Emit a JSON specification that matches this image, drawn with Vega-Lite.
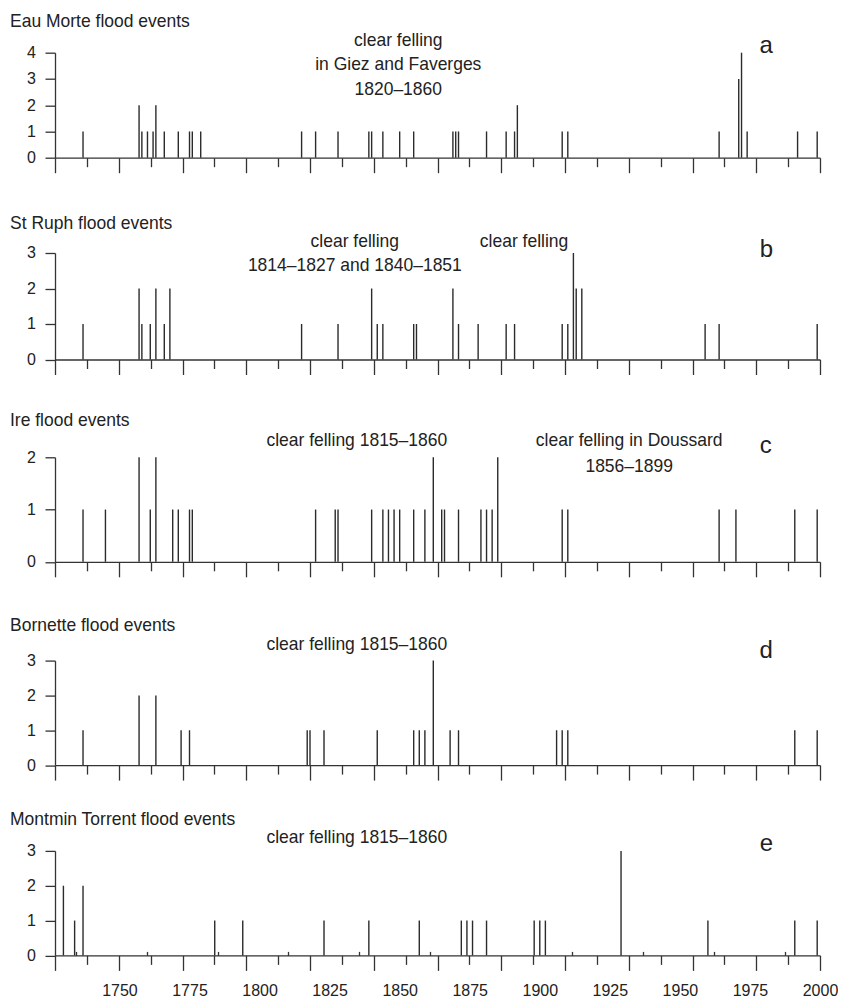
{
  "$schema": "https://vega.github.io/schema/vega-lite/v6.json",
  "padding": {"left": 10, "top": 11.7, "right": 0, "bottom": 0},
  "spacing": 28.3,
  "config": {
    "font": "Liberation Sans",
    "view": {"stroke": null},
    "axis": {"grid": false, "domainColor": "#333", "tickColor": "#333", "labelColor": "#222", "domainWidth": 1.3, "tickWidth": 1.3, "titleColor": "#222", "tickCount": 100, "labelOverlap": false},
    "axisY": {"tickSize": 10, "labelPadding": 9.5, "labelFontSize": 16, "format": "d"},
    "title": {"anchor": "start", "frame": "group", "dx": -45, "baseline": "alphabetic", "fontSize": 17.5, "fontWeight": "normal", "color": "#222"},
    "text": {"color": "#222", "fontSize": 17.5, "align": "center", "baseline": "alphabetic"}
  },
  "datasets": {
    "floods": [
      {"river": "Eau Morte", "year": 1737, "count": 1},
      {"river": "Eau Morte", "year": 1757, "count": 2},
      {"river": "Eau Morte", "year": 1758, "count": 1},
      {"river": "Eau Morte", "year": 1760, "count": 1},
      {"river": "Eau Morte", "year": 1762, "count": 1},
      {"river": "Eau Morte", "year": 1763, "count": 2},
      {"river": "Eau Morte", "year": 1766, "count": 1},
      {"river": "Eau Morte", "year": 1771, "count": 1},
      {"river": "Eau Morte", "year": 1775, "count": 1},
      {"river": "Eau Morte", "year": 1776, "count": 1},
      {"river": "Eau Morte", "year": 1779, "count": 1},
      {"river": "Eau Morte", "year": 1815, "count": 1},
      {"river": "Eau Morte", "year": 1820, "count": 1},
      {"river": "Eau Morte", "year": 1828, "count": 1},
      {"river": "Eau Morte", "year": 1839, "count": 1},
      {"river": "Eau Morte", "year": 1840, "count": 1},
      {"river": "Eau Morte", "year": 1844, "count": 1},
      {"river": "Eau Morte", "year": 1850, "count": 1},
      {"river": "Eau Morte", "year": 1855, "count": 1},
      {"river": "Eau Morte", "year": 1869, "count": 1},
      {"river": "Eau Morte", "year": 1870, "count": 1},
      {"river": "Eau Morte", "year": 1871, "count": 1},
      {"river": "Eau Morte", "year": 1881, "count": 1},
      {"river": "Eau Morte", "year": 1888, "count": 1},
      {"river": "Eau Morte", "year": 1891, "count": 1},
      {"river": "Eau Morte", "year": 1892, "count": 2},
      {"river": "Eau Morte", "year": 1908, "count": 1},
      {"river": "Eau Morte", "year": 1910, "count": 1},
      {"river": "Eau Morte", "year": 1964, "count": 1},
      {"river": "Eau Morte", "year": 1971, "count": 3},
      {"river": "Eau Morte", "year": 1972, "count": 4},
      {"river": "Eau Morte", "year": 1974, "count": 1},
      {"river": "Eau Morte", "year": 1992, "count": 1},
      {"river": "Eau Morte", "year": 1999, "count": 1},
      {"river": "St Ruph", "year": 1737, "count": 1},
      {"river": "St Ruph", "year": 1757, "count": 2},
      {"river": "St Ruph", "year": 1758, "count": 1},
      {"river": "St Ruph", "year": 1761, "count": 1},
      {"river": "St Ruph", "year": 1763, "count": 2},
      {"river": "St Ruph", "year": 1766, "count": 1},
      {"river": "St Ruph", "year": 1768, "count": 2},
      {"river": "St Ruph", "year": 1815, "count": 1},
      {"river": "St Ruph", "year": 1828, "count": 1},
      {"river": "St Ruph", "year": 1840, "count": 2},
      {"river": "St Ruph", "year": 1842, "count": 1},
      {"river": "St Ruph", "year": 1844, "count": 1},
      {"river": "St Ruph", "year": 1855, "count": 1},
      {"river": "St Ruph", "year": 1856, "count": 1},
      {"river": "St Ruph", "year": 1869, "count": 2},
      {"river": "St Ruph", "year": 1871, "count": 1},
      {"river": "St Ruph", "year": 1878, "count": 1},
      {"river": "St Ruph", "year": 1888, "count": 1},
      {"river": "St Ruph", "year": 1891, "count": 1},
      {"river": "St Ruph", "year": 1908, "count": 1},
      {"river": "St Ruph", "year": 1910, "count": 1},
      {"river": "St Ruph", "year": 1912, "count": 3},
      {"river": "St Ruph", "year": 1913, "count": 2},
      {"river": "St Ruph", "year": 1915, "count": 2},
      {"river": "St Ruph", "year": 1959, "count": 1},
      {"river": "St Ruph", "year": 1964, "count": 1},
      {"river": "St Ruph", "year": 1999, "count": 1},
      {"river": "Ire", "year": 1737, "count": 1},
      {"river": "Ire", "year": 1745, "count": 1},
      {"river": "Ire", "year": 1757, "count": 2},
      {"river": "Ire", "year": 1761, "count": 1},
      {"river": "Ire", "year": 1763, "count": 2},
      {"river": "Ire", "year": 1769, "count": 1},
      {"river": "Ire", "year": 1771, "count": 1},
      {"river": "Ire", "year": 1775, "count": 1},
      {"river": "Ire", "year": 1776, "count": 1},
      {"river": "Ire", "year": 1820, "count": 1},
      {"river": "Ire", "year": 1827, "count": 1},
      {"river": "Ire", "year": 1828, "count": 1},
      {"river": "Ire", "year": 1840, "count": 1},
      {"river": "Ire", "year": 1844, "count": 1},
      {"river": "Ire", "year": 1846, "count": 1},
      {"river": "Ire", "year": 1848, "count": 1},
      {"river": "Ire", "year": 1850, "count": 1},
      {"river": "Ire", "year": 1855, "count": 1},
      {"river": "Ire", "year": 1859, "count": 1},
      {"river": "Ire", "year": 1862, "count": 2},
      {"river": "Ire", "year": 1865, "count": 1},
      {"river": "Ire", "year": 1866, "count": 1},
      {"river": "Ire", "year": 1871, "count": 1},
      {"river": "Ire", "year": 1879, "count": 1},
      {"river": "Ire", "year": 1881, "count": 1},
      {"river": "Ire", "year": 1883, "count": 1},
      {"river": "Ire", "year": 1885, "count": 2},
      {"river": "Ire", "year": 1908, "count": 1},
      {"river": "Ire", "year": 1910, "count": 1},
      {"river": "Ire", "year": 1964, "count": 1},
      {"river": "Ire", "year": 1970, "count": 1},
      {"river": "Ire", "year": 1991, "count": 1},
      {"river": "Ire", "year": 1999, "count": 1},
      {"river": "Bornette", "year": 1737, "count": 1},
      {"river": "Bornette", "year": 1757, "count": 2},
      {"river": "Bornette", "year": 1763, "count": 2},
      {"river": "Bornette", "year": 1772, "count": 1},
      {"river": "Bornette", "year": 1775, "count": 1},
      {"river": "Bornette", "year": 1817, "count": 1},
      {"river": "Bornette", "year": 1818, "count": 1},
      {"river": "Bornette", "year": 1823, "count": 1},
      {"river": "Bornette", "year": 1842, "count": 1},
      {"river": "Bornette", "year": 1855, "count": 1},
      {"river": "Bornette", "year": 1857, "count": 1},
      {"river": "Bornette", "year": 1859, "count": 1},
      {"river": "Bornette", "year": 1862, "count": 3},
      {"river": "Bornette", "year": 1868, "count": 1},
      {"river": "Bornette", "year": 1871, "count": 1},
      {"river": "Bornette", "year": 1906, "count": 1},
      {"river": "Bornette", "year": 1908, "count": 1},
      {"river": "Bornette", "year": 1910, "count": 1},
      {"river": "Bornette", "year": 1991, "count": 1},
      {"river": "Bornette", "year": 1999, "count": 1},
      {"river": "Montmin Torrent", "year": 1730, "count": 2},
      {"river": "Montmin Torrent", "year": 1734, "count": 1},
      {"river": "Montmin Torrent", "year": 1737, "count": 2},
      {"river": "Montmin Torrent", "year": 1784, "count": 1},
      {"river": "Montmin Torrent", "year": 1794, "count": 1},
      {"river": "Montmin Torrent", "year": 1823, "count": 1},
      {"river": "Montmin Torrent", "year": 1839, "count": 1},
      {"river": "Montmin Torrent", "year": 1857, "count": 1},
      {"river": "Montmin Torrent", "year": 1872, "count": 1},
      {"river": "Montmin Torrent", "year": 1874, "count": 1},
      {"river": "Montmin Torrent", "year": 1876, "count": 1},
      {"river": "Montmin Torrent", "year": 1881, "count": 1},
      {"river": "Montmin Torrent", "year": 1898, "count": 1},
      {"river": "Montmin Torrent", "year": 1900, "count": 1},
      {"river": "Montmin Torrent", "year": 1902, "count": 1},
      {"river": "Montmin Torrent", "year": 1929, "count": 3},
      {"river": "Montmin Torrent", "year": 1960, "count": 1},
      {"river": "Montmin Torrent", "year": 1991, "count": 1},
      {"river": "Montmin Torrent", "year": 1999, "count": 1}
    ]
  },
  "vconcat": [
    {
      "width": 765, "height": 105,
      "title": {"text": "Eau Morte flood events", "offset": 1.5},
      "layer": [
        {
          "data": {"name": "floods"},
          "transform": [{"filter": "datum.river == 'Eau Morte'"}],
          "mark": {"type": "rule", "strokeWidth": 1.4, "color": "#2b2b2b"},
          "encoding": {
            "x": {"field": "year", "type": "quantitative", "scale": {"domain": [1727, 2000], "nice": false, "zero": false},
              "axis": {"title": "x", "titleOpacity": 0, "titleFontSize": 1, "titlePadding": 11.3, "labels": false, "values": [1727, 1738.375, 1749.75, 1761.125, 1772.5, 1783.875, 1795.25, 1806.625, 1818, 1829.375, 1840.75, 1852.125, 1863.5, 1874.875, 1886.25, 1897.625, 1909, 1920.375, 1931.75, 1943.125, 1954.5, 1965.875, 1977.25, 1988.625, 2000],
                "tickSize": {"condition": {"test": "round((datum.value-1727)/11.375) % 2 == 1", "value": 9}, "value": 15}}},
            "y": {"field": "count", "type": "quantitative", "scale": {"domain": [0, 4], "nice": false}, "axis": {"title": null, "values": [0, 1, 2, 3, 4]}},
            "y2": {"datum": 0}
          }
        },
        {
          "data": {"values": [{}]},
          "mark": {"type": "text", "text": ["clear felling", "in Giez and Faverges", "1820–1860"], "lineHeight": 24.5},
          "encoding": {"x": {"datum": 1849.5}, "y": {"datum": 4.27}}
        },
        {
          "data": {"values": [{}]},
          "mark": {"type": "text", "text": "a", "fontSize": 24},
          "encoding": {"x": {"datum": 1980.8}, "y": {"datum": 3.98}}
        }
      ]
    },
    {
      "width": 765, "height": 106.5,
      "title": {"text": "St Ruph flood events", "offset": 0.9},
      "layer": [
        {
          "data": {"name": "floods"},
          "transform": [{"filter": "datum.river == 'St Ruph'"}],
          "mark": {"type": "rule", "strokeWidth": 1.4, "color": "#2b2b2b"},
          "encoding": {
            "x": {"field": "year", "type": "quantitative", "scale": {"domain": [1727, 2000], "nice": false, "zero": false},
              "axis": {"title": "x", "titleOpacity": 0, "titleFontSize": 1, "titlePadding": 6.4, "labels": false, "values": [1727, 1738.375, 1749.75, 1761.125, 1772.5, 1783.875, 1795.25, 1806.625, 1818, 1829.375, 1840.75, 1852.125, 1863.5, 1874.875, 1886.25, 1897.625, 1909, 1920.375, 1931.75, 1943.125, 1954.5, 1965.875, 1977.25, 1988.625, 2000],
                "tickSize": {"condition": {"test": "round((datum.value-1727)/11.375) % 2 == 1", "value": 9}, "value": 15}}},
            "y": {"field": "count", "type": "quantitative", "scale": {"domain": [0, 3], "nice": false}, "axis": {"title": null, "values": [0, 1, 2, 3]}},
            "y2": {"datum": 0}
          }
        },
        {
          "data": {"values": [{}]},
          "mark": {"type": "text", "text": ["clear felling", "1814–1827 and 1840–1851"], "lineHeight": 24},
          "encoding": {"x": {"datum": 1834}, "y": {"datum": 3.17}}
        },
        {
          "data": {"values": [{}]},
          "mark": {"type": "text", "text": "clear felling"},
          "encoding": {"x": {"datum": 1894.4}, "y": {"datum": 3.17}}
        },
        {
          "data": {"values": [{}]},
          "mark": {"type": "text", "text": "b", "fontSize": 24},
          "encoding": {"x": {"datum": 1980.9}, "y": {"datum": 2.89}}
        }
      ]
    },
    {
      "width": 765, "height": 104.5,
      "title": {"text": "Ire flood events", "offset": 2.2},
      "layer": [
        {
          "data": {"name": "floods"},
          "transform": [{"filter": "datum.river == 'Ire'"}],
          "mark": {"type": "rule", "strokeWidth": 1.4, "color": "#2b2b2b"},
          "encoding": {
            "x": {"field": "year", "type": "quantitative", "scale": {"domain": [1727, 2000], "nice": false, "zero": false},
              "axis": {"title": "x", "titleOpacity": 0, "titleFontSize": 1, "titlePadding": 9.7, "labels": false, "values": [1727, 1738.375, 1749.75, 1761.125, 1772.5, 1783.875, 1795.25, 1806.625, 1818, 1829.375, 1840.75, 1852.125, 1863.5, 1874.875, 1886.25, 1897.625, 1909, 1920.375, 1931.75, 1943.125, 1954.5, 1965.875, 1977.25, 1988.625, 2000],
                "tickSize": {"condition": {"test": "round((datum.value-1727)/11.375) % 2 == 1", "value": 9}, "value": 15}}},
            "y": {"field": "count", "type": "quantitative", "scale": {"domain": [0, 2], "nice": false}, "axis": {"title": null, "values": [0, 1, 2]}},
            "y2": {"datum": 0}
          }
        },
        {
          "data": {"values": [{}]},
          "mark": {"type": "text", "text": "clear felling 1815–1860"},
          "encoding": {"x": {"datum": 1834.7}, "y": {"datum": 2.22}}
        },
        {
          "data": {"values": [{}]},
          "mark": {"type": "text", "text": ["clear felling in Doussard", "1856–1899"], "lineHeight": 26},
          "encoding": {"x": {"datum": 1931.9}, "y": {"datum": 2.22}}
        },
        {
          "data": {"values": [{}]},
          "mark": {"type": "text", "text": "c", "fontSize": 24},
          "encoding": {"x": {"datum": 1980.6}, "y": {"datum": 2.08}}
        }
      ]
    },
    {
      "width": 765, "height": 104.5,
      "title": {"text": "Bornette flood events", "offset": 1.5},
      "layer": [
        {
          "data": {"name": "floods"},
          "transform": [{"filter": "datum.river == 'Bornette'"}],
          "mark": {"type": "rule", "strokeWidth": 1.4, "color": "#2b2b2b"},
          "encoding": {
            "x": {"field": "year", "type": "quantitative", "scale": {"domain": [1727, 2000], "nice": false, "zero": false},
              "axis": {"title": null, "labels": false, "values": [1727, 1738.375, 1749.75, 1761.125, 1772.5, 1783.875, 1795.25, 1806.625, 1818, 1829.375, 1840.75, 1852.125, 1863.5, 1874.875, 1886.25, 1897.625, 1909, 1920.375, 1931.75, 1943.125, 1954.5, 1965.875, 1977.25, 1988.625, 2000],
                "tickSize": {"condition": {"test": "round((datum.value-1727)/11.375) % 2 == 1", "value": 9}, "value": 15}}},
            "y": {"field": "count", "type": "quantitative", "scale": {"domain": [0, 3], "nice": false}, "axis": {"title": null, "values": [0, 1, 2, 3]}},
            "y2": {"datum": 0}
          }
        },
        {
          "data": {"values": [{}]},
          "mark": {"type": "text", "text": "clear felling 1815–1860"},
          "encoding": {"x": {"datum": 1834.7}, "y": {"datum": 3.29}}
        },
        {
          "data": {"values": [{}]},
          "mark": {"type": "text", "text": "d", "fontSize": 24},
          "encoding": {"x": {"datum": 1980.8}, "y": {"datum": 3.07}}
        }
      ]
    },
    {
      "width": 765, "height": 104.5,
      "title": {"text": "Montmin Torrent flood events", "offset": 0.5},
      "layer": [
        {
          "data": {"name": "floods"},
          "transform": [{"filter": "datum.river == 'Montmin Torrent'"}],
          "mark": {"type": "rule", "strokeWidth": 1.4, "color": "#2b2b2b"},
          "encoding": {
            "x": {"field": "year", "type": "quantitative", "scale": {"domain": [1727, 2000], "nice": false, "zero": false},
              "axis": {"title": null, "format": "d",
                "values": [1727, 1738.375, 1749.75, 1761.125, 1772.5, 1783.875, 1795.25, 1806.625, 1818, 1829.375, 1840.75, 1852.125, 1863.5, 1874.875, 1886.25, 1897.625, 1909, 1920.375, 1931.75, 1943.125, 1954.5, 1965.875, 1977.25, 1988.625, 2000, 1750, 1775, 1800, 1825, 1850, 1875, 1900, 1925, 1950, 1975, 1734.5, 1760, 1785, 1810.3, 1835.6, 1861, 1911.6, 1937, 1962.2, 1987.6],
                "labelExpr": "datum.value % 25 == 0 ? datum.label : ''",
                "labelFlush": false, "labelBound": false,
                "labelFontSize": 16, "labelBaseline": "top", "labelPadding": 12,
                "tickOpacity": {"condition": {"test": "datum.value % 25 == 0 && datum.value < 2000", "value": 0}, "value": 1},
                "tickSize": {"condition": [
                  {"test": "indexof([1734.5, 1760, 1785, 1810.3, 1835.6, 1861, 1911.6, 1937, 1962.2, 1987.6], datum.value) >= 0", "value": -4},
                  {"test": "datum.value % 25 == 0", "value": 15},
                  {"test": "round((datum.value-1727)/11.375) % 2 == 1", "value": 9}
                ], "value": 15}}},
            "y": {"field": "count", "type": "quantitative", "scale": {"domain": [0, 3], "nice": false}, "axis": {"title": null, "values": [0, 1, 2, 3]}},
            "y2": {"datum": 0}
          }
        },
        {
          "data": {"values": [{}]},
          "mark": {"type": "text", "text": "clear felling 1815–1860"},
          "encoding": {"x": {"datum": 1834.7}, "y": {"datum": 3.24}}
        },
        {
          "data": {"values": [{}]},
          "mark": {"type": "text", "text": "e", "fontSize": 24},
          "encoding": {"x": {"datum": 1980.9}, "y": {"datum": 2.99}}
        }
      ]
    }
  ]
}
